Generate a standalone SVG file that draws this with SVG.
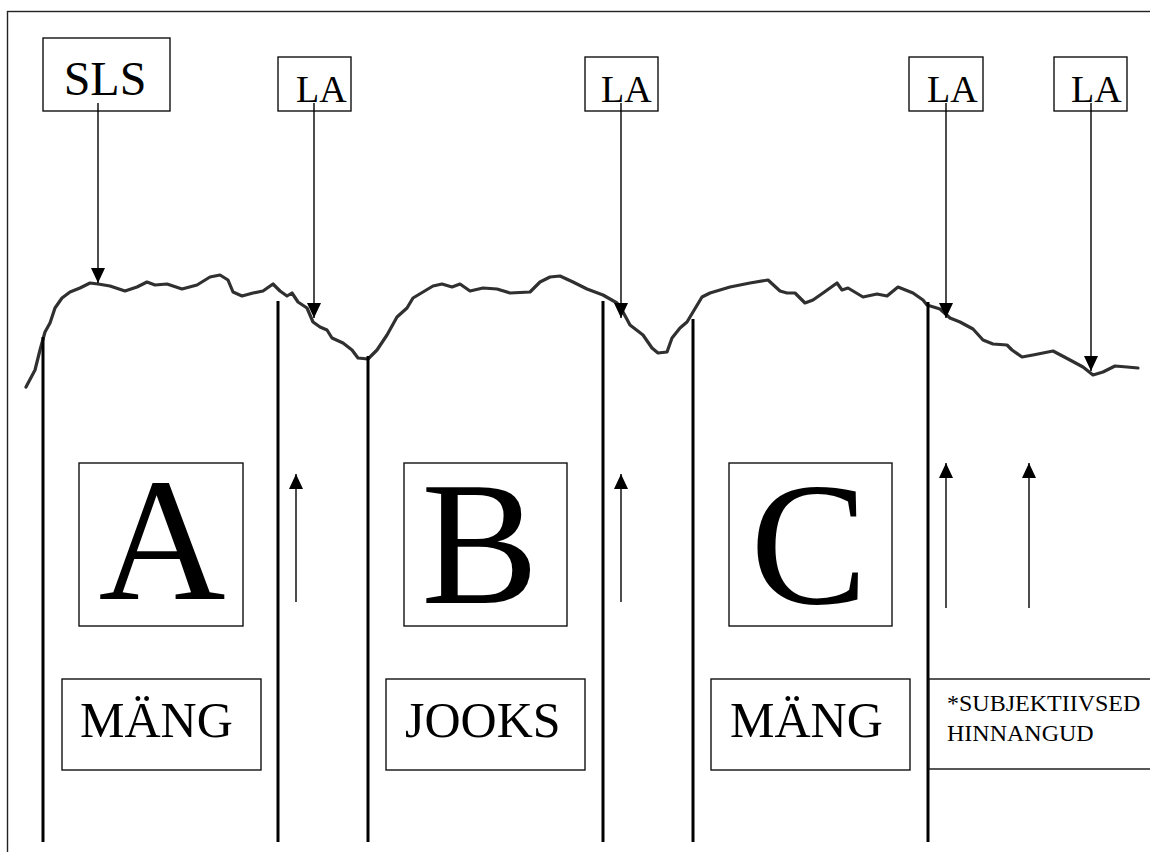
<svg xmlns="http://www.w3.org/2000/svg" width="1150" height="852" viewBox="0 0 1150 852">
<style>
.box{fill:#fff;stroke:#111;stroke-width:1.4}
.t{font-family:"Liberation Serif","Times New Roman",serif;fill:#000}
.conn{stroke:#000;stroke-width:1.4;fill:none}
.div{stroke:#000;stroke-width:3;fill:none}
.curve{stroke:#303030;stroke-width:3.2;fill:none;stroke-linejoin:round;stroke-linecap:round}
</style>
<defs>
<marker id="ah" markerUnits="userSpaceOnUse" markerWidth="16" markerHeight="16" viewBox="0 0 16 16" refX="15" refY="8" orient="auto">
<path d="M0,1 L15,8 L0,15 Z" fill="#000"/>
</marker>
</defs>
<rect x="0" y="0" width="1150" height="852" fill="#fff"/>
<rect x="7.5" y="11.5" width="1170" height="870" fill="none" stroke="#222" stroke-width="1.4"/>

<g id="curve-and-dividers">
<polyline class="curve" points="26,387 35,370 40,350 45,332 50,323 55,308 62,298 70,292 80,288 90,283 98,284 110,286 125,291 137,287 147,282 155,285 167,284 182,289 197,285 210,277 220,275 228,280 233,292 242,296 253,293 263,291 273,284 280,291 287,296 292,293 298,302 307,308 313,322 320,327 327,330 332,338 343,343 352,350 358,358 368,359 377,350 387,335 397,317 407,308 413,298 423,292 433,286 442,284 452,287 460,284 470,291 483,288 497,289 510,293 530,292 540,282 550,277 560,276 573,282 587,289 603,295 617,303 623,312 630,325 643,335 652,348 658,353 667,352 672,338 680,328 687,322 693,312 702,297 710,293 730,287 750,283 768,280 780,291 787,293 795,293 805,303 813,300 823,293 837,283 842,290 848,288 863,297 877,294 887,296 898,287 913,293 923,300 927,305 940,309 950,318 960,322 973,329 983,340 993,344 1007,345 1012,350 1022,357 1033,355 1053,351 1070,360 1083,367 1093,375 1103,372 1115,366 1127,367 1138,368"/>
<line class="div" x1="43" y1="337" x2="43" y2="842"/>
<line class="div" x1="278" y1="301" x2="278" y2="842"/>
<line class="div" x1="368" y1="356" x2="368" y2="842"/>
<line class="div" x1="603" y1="301" x2="603" y2="842"/>
<line class="div" x1="693" y1="319" x2="693" y2="842"/>
<line class="div" x1="928" y1="302" x2="928" y2="842"/>
</g>

<g id="node-sls">
<rect class="box" x="43" y="38" width="127" height="73"/>
<text class="t" x="105" y="95" font-size="48" text-anchor="middle">SLS</text>
</g>
<g id="node-la1">
<rect class="box" x="278" y="57" width="73" height="54"/>
<text class="t" x="296" y="102" font-size="38">LA</text>
</g>
<g id="node-la2">
<rect class="box" x="585" y="57" width="73" height="54"/>
<text class="t" x="601" y="102" font-size="38">LA</text>
</g>
<g id="node-la3">
<rect class="box" x="909" y="57" width="74" height="54"/>
<text class="t" x="927" y="102" font-size="38">LA</text>
</g>
<g id="node-la4">
<rect class="box" x="1054" y="57" width="73" height="54"/>
<text class="t" x="1071" y="102" font-size="38">LA</text>
</g>

<g id="node-a">
<rect class="box" x="79" y="463" width="164" height="163"/>
<text class="t" x="162" y="599" font-size="176" text-anchor="middle">A</text>
</g>
<g id="node-b">
<rect class="box" x="404" y="463" width="163" height="163"/>
<text class="t" x="480" y="603" font-size="176" text-anchor="middle">B</text>
</g>
<g id="node-c">
<rect class="box" x="729" y="463" width="163" height="163"/>
<text class="t" x="809" y="603" font-size="176" text-anchor="middle">C</text>
</g>

<g id="node-mang1">
<rect class="box" x="62" y="679" width="199" height="91"/>
<text class="t" x="80" y="737" font-size="50">MÄNG</text>
</g>
<g id="node-jooks">
<rect class="box" x="386" y="679" width="199" height="91"/>
<text class="t" x="405" y="737" font-size="50">JOOKS</text>
</g>
<g id="node-mang2">
<rect class="box" x="711" y="679" width="199" height="91"/>
<text class="t" x="730" y="737" font-size="50">MÄNG</text>
</g>
<g id="node-subj">
<rect class="box" x="929" y="679" width="240" height="90"/>
<text class="t" x="947" y="711" font-size="24">*SUBJEKTIIVSED</text>
<text class="t" x="947" y="741" font-size="24">HINNANGUD</text>
</g>

<g id="connectors">
<line class="conn" x1="98" y1="103" x2="98" y2="283" marker-end="url(#ah)"/>
<line class="conn" x1="314" y1="103" x2="314" y2="318" marker-end="url(#ah)"/>
<line class="conn" x1="621" y1="103" x2="621" y2="318" marker-end="url(#ah)"/>
<line class="conn" x1="946" y1="103" x2="946" y2="318" marker-end="url(#ah)"/>
<line class="conn" x1="1091" y1="103" x2="1091" y2="371" marker-end="url(#ah)"/>
<line class="conn" x1="296" y1="602" x2="296" y2="474" marker-end="url(#ah)"/>
<line class="conn" x1="621" y1="602" x2="621" y2="474" marker-end="url(#ah)"/>
<line class="conn" x1="946" y1="608" x2="946" y2="463" marker-end="url(#ah)"/>
<line class="conn" x1="1029" y1="608" x2="1029" y2="463" marker-end="url(#ah)"/>
</g>
</svg>
